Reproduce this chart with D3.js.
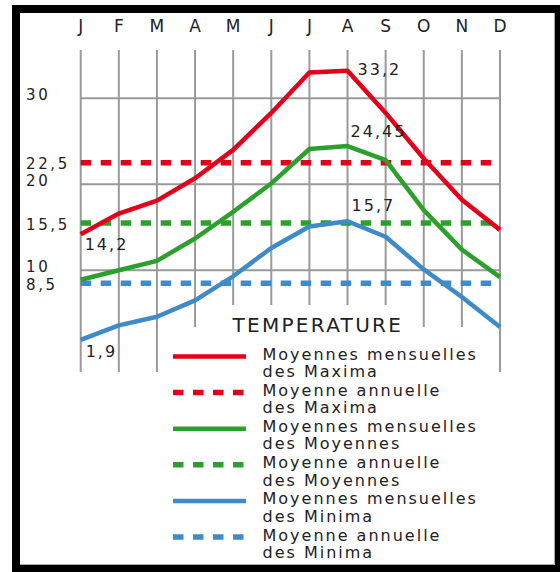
<!DOCTYPE html>
<html>
<head>
<meta charset="utf-8">
<script src="https://cdn.jsdelivr.net/npm/d3@7/dist/d3.min.js"></script>
<style>
html,body{margin:0;padding:0;background:#fff;}
svg{display:block;}
text{font-family:"DejaVu Sans",Verdana,sans-serif;fill:#222;}
</style>
</head>
<body>
<svg id="chart" width="560" height="572"></svg>
<script>
// ---- data ----
const months = ["J","F","M","A","M","J","J","A","S","O","N","D"];
const maxima  = [14.2, 16.6, 18.1, 20.7, 24.0, 28.3, 33.0, 33.2, 28.3, 23.0, 18.2, 14.7];
const moyennes = [8.9, 10.0, 11.1, 13.7, 16.8, 20.1, 24.1, 24.45, 22.8, 17.0, 12.4, 9.2];
const minima  = [1.9, 3.6, 4.6, 6.5, 9.3, 12.6, 15.1, 15.7, 13.9, 10.1, 6.9, 3.4];
const annualMeans = [22.5, 15.5, 8.5];          // maxima, moyennes, minima
const gridTicks = [10, 20, 30];
const yTickLabels = [30, 22.5, 20, 15.5, 10, 8.5];
const pointLabels = [ // series index, month index
  {s:0, m:0}, {s:0, m:7}, {s:1, m:7}, {s:2, m:0}, {s:2, m:7}
];
const legendTitle = "TEMPERATURE";
const legendLabels = [
  ["Moyennes mensuelles","des Maxima"],
  ["Moyenne annuelle","des Maxima"],
  ["Moyennes mensuelles","des Moyennes"],
  ["Moyenne annuelle","des Moyennes"],
  ["Moyennes mensuelles","des Minima"],
  ["Moyenne annuelle","des Minima"]
];

// ---- styles ----
const colors = ["#e2001a", "#2ca02c", "#3f8bc9"];
const series = [maxima, moyennes, minima];
const fmt = v => String(v).replace(".", ",");

const svg = d3.select("#chart");

// frame
svg.append("rect").attr("x",16).attr("y",9).attr("width",543).attr("height",560)
  .attr("fill","#fff").attr("stroke","#000").attr("stroke-width",8);
svg.append("path").attr("d","M554.5,13V564.5H20").attr("fill","none").attr("stroke","#aaa").attr("stroke-width",1);

// scales
const x = d3.scaleLinear().domain([0, 11]).range([80.7, 500]);
const y = d3.scaleLinear().domain([0, 30]).range([356.3, 98.3]);
const yTop = 50, yBottom = 372;

// grid
const grid = svg.append("g").attr("stroke","#9a9a9a").attr("stroke-width",2);
grid.selectAll("line.v").data(months).join("line").attr("class","v")
  .attr("x1",(d,i)=>x(i)).attr("x2",(d,i)=>x(i)).attr("y1",yTop).attr("y2",yBottom);
grid.selectAll("line.h").data(gridTicks).join("line").attr("class","h")
  .attr("x1",x(0)).attr("x2",x(11)).attr("y1",d=>y(d)).attr("y2",d=>y(d));

// legend background (occludes grid)
svg.append("rect").attr("x",205).attr("y",305).attr("width",195).attr("height",70).attr("fill","#fff");
svg.append("rect").attr("x",178).attr("y",327).attr("width",302).attr("height",48).attr("fill","#fff");

// month labels
svg.append("g").selectAll("text").data(months).join("text")
  .attr("x",(d,i)=>x(i)).attr("y",32).attr("text-anchor","middle")
  .style("font-size","17px").text(d=>d);

// y labels
svg.append("g").selectAll("text").data(yTickLabels).join("text")
  .attr("x",26).attr("y",d=>y(d) + (Number.isInteger(d) ? 1.5 : 6.5))
  .style("font-size","15px").style("letter-spacing","2.6px").text(d=>fmt(d));

// annual mean dashed lines
svg.append("g").selectAll("line").data(annualMeans).join("line")
  .attr("x1",x(0)).attr("x2",x(11)).attr("y1",d=>y(d)).attr("y2",d=>y(d))
  .attr("stroke",(d,i)=>colors[i]).attr("stroke-width",5.5)
  .attr("stroke-dasharray","10.5,9.5");

// monthly lines
const line = d3.line().x((d,i)=>x(i)).y(d=>y(d)).curve(d3.curveLinear);
svg.append("g").selectAll("path").data(series).join("path")
  .attr("d",d=>line(d)).attr("fill","none")
  .attr("stroke",(d,i)=>colors[i]).attr("stroke-width",4.5)
  .attr("stroke-linejoin","round");

// point labels
const labelOffset = {"0-0":[4,16],"0-7":[10,4],"1-7":[3,-9],"2-0":[5,17],"2-7":[4,-10]};
svg.append("g").selectAll("text").data(pointLabels).join("text")
  .attr("x",d=>x(d.m)+labelOffset[d.s+"-"+d.m][0])
  .attr("y",d=>y(series[d.s][d.m])+labelOffset[d.s+"-"+d.m][1])
  .style("font-size","16px").style("letter-spacing","2px")
  .text(d=>fmt(series[d.s][d.m]));

// legend
svg.append("text").attr("x",232.5).attr("y",332.3)
  .style("font-size","20px").style("letter-spacing","2.3px").text(legendTitle);
const lg = svg.append("g").selectAll("g").data(legendLabels).join("g")
  .attr("transform",(d,i)=>`translate(0,${360 + i*36.1})`);
lg.append("line").attr("x1",173).attr("x2",246).attr("y1",-3.5).attr("y2",-3.5)
  .attr("stroke",(d,i)=>colors[Math.floor(i/2)])
  .attr("stroke-width",(d,i)=> i%2 ? 5.5 : 4.5)
  .attr("stroke-dasharray",(d,i)=> i%2 ? "10.5,9.5" : null);
lg.append("text").attr("x",262.5).attr("y",0)
  .style("font-size","16px").style("letter-spacing","2px")
  .selectAll("tspan").data(d=>d).join("tspan")
  .attr("x",262.5).attr("dy",(d,i)=>i? 17.3 : 0).text(d=>d);
</script>
</body>
</html>
